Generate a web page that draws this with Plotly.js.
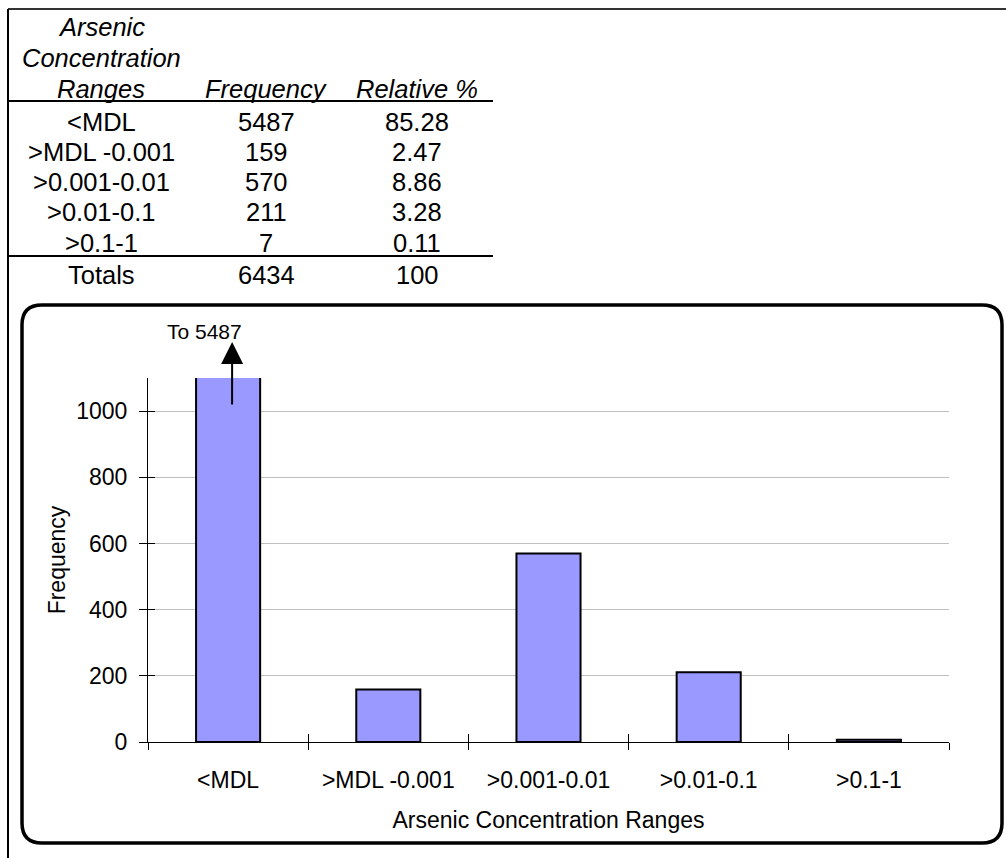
<!DOCTYPE html>
<html>
<head>
<meta charset="utf-8">
<script src="https://cdn.plot.ly/plotly-3.0.1.min.js"></script>
<style>
  html, body { margin: 0; padding: 0; background: #ffffff; }
  #chart { width: 1006px; height: 858px; }
</style>
</head>
<body>
<div id="chart"></div>
<script>
// Arsenic concentration ranges and their counts
const ranges = ['<MDL', '>MDL -0.001', '>0.001-0.01', '>0.01-0.1', '>0.1-1'];
const frequency = [5487, 159, 570, 211, 7];
const relativePct = ['85.28', '2.47', '8.86', '3.28', '0.11'];
const totalFrequency = 6434;
const totalPct = 100;
const headerRanges = ['Arsenic', 'Concentration', 'Ranges'];
const headerFrequency = 'Frequency';
const headerRelative = 'Relative %';
const yTicks = [0, 200, 400, 600, 800, 1000];

// plot area geometry (pixels in the 1006x858 page)
const L = 148, T = 378, W = 801, H = 364;
const px = x => (x - L) / W;
const py = y => (T + H - y) / H;

const FONT = 'Liberation Sans, Arial, Helvetica, sans-serif';
const annotations = [];
const shapes = [];

function cell(text, x, y, size, italic) {
  annotations.push({
    xref: 'paper', yref: 'paper', x: px(x), y: py(y),
    xanchor: 'center', yanchor: 'middle', showarrow: false,
    text: italic ? '<i>' + text + '</i>' : text,
    font: { family: FONT, size: size, color: '#000000' }
  });
}

// summary table above the chart
const colX = [101, 266, 417];
const TS = 25.5;
const headerY = [27, 58, 89];
headerRanges.forEach((t, i) => cell(t, colX[0], headerY[i], TS, true));
cell(headerFrequency, colX[1], headerY[2], TS, true);
cell(headerRelative, colX[2], headerY[2], TS, true);
const rowY0 = 121.5, rowStep = 30.3;
ranges.forEach((r, i) => {
  const y = rowY0 + i * rowStep;
  cell(r, colX[0], y, TS, false);
  cell(String(frequency[i]), colX[1], y, TS, false);
  cell(relativePct[i], colX[2], y, TS, false);
});
cell('Totals', colX[0], 275, TS, false);
cell(String(totalFrequency), colX[1], 275, TS, false);
cell(String(totalPct), colX[2], 275, TS, false);

function hline(y, x0, x1, w, c) {
  shapes.push({ type: 'line', xref: 'paper', yref: 'paper',
    x0: px(x0), x1: px(x1), y0: py(y), y1: py(y),
    line: { color: c, width: w } });
}
function vline(x, y0, y1, w, c) {
  shapes.push({ type: 'line', xref: 'paper', yref: 'paper',
    x0: px(x), x1: px(x), y0: py(y0), y1: py(y1),
    line: { color: c, width: w } });
}
// table rules
hline(101, 8, 493, 2, '#000000');
hline(256, 8, 493, 2, '#000000');
// sheet edges
hline(9, 8, 1006, 2, '#333333');
vline(8, 9, 858, 2, '#000000');

// rounded frame around the chart
(function () {
  const x0 = 22, x1 = 1002, y0 = 305, y1 = 843, r = 20;
  const P = (x, y) => px(x) + ',' + py(y);
  const path = 'M' + P(x0 + r, y0) +
    ' L' + P(x1 - r, y0) + ' Q' + P(x1, y0) + ' ' + P(x1, y0 + r) +
    ' L' + P(x1, y1 - r) + ' Q' + P(x1, y1) + ' ' + P(x1 - r, y1) +
    ' L' + P(x0 + r, y1) + ' Q' + P(x0, y1) + ' ' + P(x0, y1 - r) +
    ' L' + P(x0, y0 + r) + ' Q' + P(x0, y0) + ' ' + P(x0 + r, y0) + ' Z';
  shapes.push({ type: 'path', xref: 'paper', yref: 'paper', path: path,
    line: { color: '#000000', width: 3.5 }, fillcolor: 'rgba(0,0,0,0)' });
})();

// the first bar runs far past the axis: label and arrow
annotations.push({
  xref: 'paper', yref: 'paper', x: px(204), y: py(331),
  xanchor: 'center', yanchor: 'middle', showarrow: false,
  text: 'To ' + frequency[0],
  font: { family: FONT, size: 21, color: '#000000' }
});
annotations.push({
  xref: 'x', yref: 'paper', x: 0, y: py(342), xshift: 4,
  ax: 0, ay: 64, axref: 'pixel', ayref: 'pixel',
  text: '', showarrow: true, arrowhead: 2, arrowsize: 2.2,
  arrowwidth: 2, arrowcolor: '#000000', standoff: 0
});

const data = [{
  type: 'bar',
  x: ranges,
  y: frequency,
  marker: { color: '#9999ff', line: { color: '#000000', width: 2 } },
  hoverinfo: 'x+y'
}, {
  // carries the overlay axes that draw the inner tick halves
  type: 'scatter', mode: 'none',
  x: ranges, y: frequency,
  xaxis: 'x2', yaxis: 'y2',
  hoverinfo: 'skip', showlegend: false
}];

const layout = {
  width: 1006, height: 858,
  margin: { l: L, r: 1006 - L - W, t: T, b: 858 - T - H, pad: 0 },
  paper_bgcolor: '#ffffff', plot_bgcolor: '#ffffff',
  showlegend: false,
  bargap: 0.6,
  font: { family: FONT, size: 23, color: '#000000' },
  xaxis: {
    type: 'category', categoryorder: 'array', categoryarray: ranges,
    range: [-0.5, 4.5], fixedrange: true,
    showline: true, linecolor: '#000000', linewidth: 1,
    ticks: 'outside', ticklen: 7, tickwidth: 1, tickcolor: '#000000',
    tickson: 'boundaries', ticklabelstandoff: 17,
    showgrid: false, zeroline: false,
    tickfont: { family: FONT, size: 23, color: '#000000' },
    title: { text: 'Arsenic Concentration Ranges', standoff: 20,
      font: { family: FONT, size: 23, color: '#000000' } }
  },
  yaxis: {
    range: [0, 1100], fixedrange: true,
    tickmode: 'array', tickvals: yTicks, ticktext: yTicks.map(String),
    showline: true, linecolor: '#000000', linewidth: 1,
    ticks: 'outside', ticklen: 8, tickwidth: 1, tickcolor: '#000000',
    ticklabelstandoff: 7,
    showgrid: true, gridcolor: '#c0c0c0', gridwidth: 1, zeroline: false,
    tickfont: { family: FONT, size: 23, color: '#000000' },
    title: { text: 'Frequency', standoff: 4,
      font: { family: FONT, size: 23, color: '#000000' } }
  },
  // inner halves of the crossing tick marks
  xaxis2: {
    overlaying: 'x', anchor: 'y2', side: 'bottom',
    type: 'category', categoryorder: 'array', categoryarray: ranges,
    range: [-0.5, 4.5], fixedrange: true,
    ticks: 'inside', ticklen: 8, tickwidth: 1, tickcolor: '#000000',
    tickson: 'boundaries', showticklabels: false,
    showline: false, showgrid: false, zeroline: false
  },
  yaxis2: {
    overlaying: 'y', anchor: 'x2', side: 'left',
    range: [0, 1100], fixedrange: true,
    tickmode: 'array', tickvals: yTicks,
    ticks: 'inside', ticklen: 7, tickwidth: 1, tickcolor: '#000000',
    showticklabels: false, showline: false, showgrid: false, zeroline: false
  },
  shapes: shapes,
  annotations: annotations
};

Plotly.newPlot('chart', data, layout, { displayModeBar: false, staticPlot: true });
</script>
</body>
</html>
